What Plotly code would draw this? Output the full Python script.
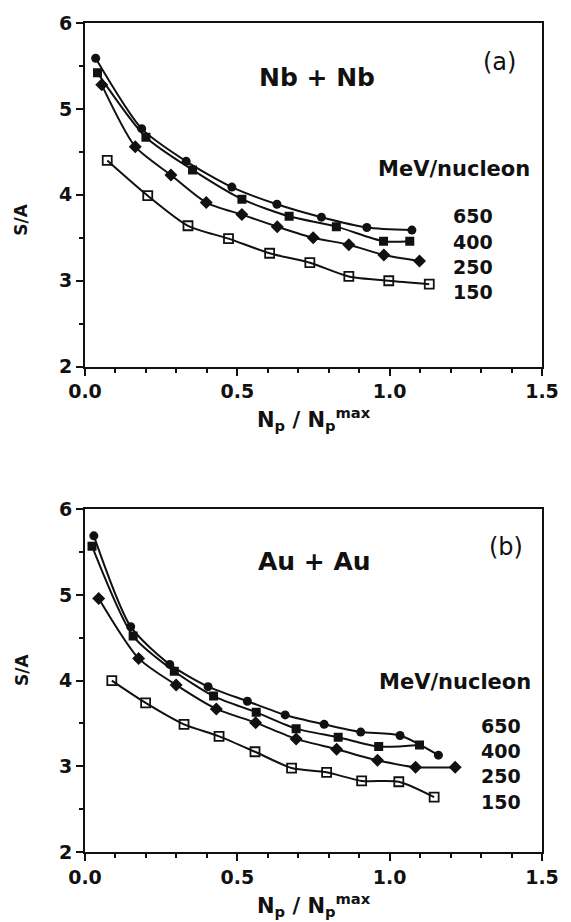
import plotly.graph_objects as go

# ---------------- data ----------------
ENERGIES = ["650", "400", "250", "150"]

A_X_650 = [0.035, 0.186, 0.332, 0.482, 0.630, 0.776, 0.925, 1.073]
A_Y_650 = [5.59, 4.77, 4.39, 4.09, 3.89, 3.74, 3.62, 3.59]
A_X_400 = [0.041, 0.200, 0.353, 0.515, 0.670, 0.825, 0.980, 1.066]
A_Y_400 = [5.42, 4.67, 4.29, 3.95, 3.75, 3.63, 3.46, 3.46]
A_X_250 = [0.055, 0.165, 0.282, 0.398, 0.515, 0.631, 0.749, 0.866, 0.981, 1.098]
A_Y_250 = [5.28, 4.56, 4.23, 3.91, 3.77, 3.63, 3.50, 3.42, 3.30, 3.23]
A_X_150 = [0.073, 0.206, 0.338, 0.471, 0.606, 0.738, 0.866, 0.997, 1.130]
A_Y_150 = [4.40, 3.99, 3.64, 3.49, 3.32, 3.21, 3.05, 3.00, 2.96]

B_X_650 = [0.029, 0.150, 0.278, 0.404, 0.533, 0.657, 0.785, 0.905, 1.034, 1.160]
B_Y_650 = [5.69, 4.63, 4.19, 3.93, 3.76, 3.60, 3.49, 3.40, 3.36, 3.13]
B_X_400 = [0.023, 0.158, 0.293, 0.422, 0.562, 0.693, 0.831, 0.964, 1.098]
B_Y_400 = [5.57, 4.52, 4.11, 3.82, 3.63, 3.44, 3.34, 3.23, 3.25]
B_X_250 = [0.045, 0.176, 0.299, 0.431, 0.560, 0.693, 0.826, 0.960, 1.085, 1.215]
B_Y_250 = [4.96, 4.26, 3.95, 3.67, 3.51, 3.32, 3.20, 3.07, 2.99, 2.99]
B_X_150 = [0.088, 0.199, 0.325, 0.440, 0.558, 0.678, 0.793, 0.908, 1.030, 1.146]
B_Y_150 = [4.00, 3.74, 3.49, 3.35, 3.17, 2.98, 2.93, 2.83, 2.82, 2.64]

X_TICKS = [0.0, 0.5, 1.0, 1.5]
X_TICK_LABELS = ["<b>0.0</b>", "<b>0.5</b>", "<b>1.0</b>", "<b>1.5</b>"]
Y_TICKS = [2, 3, 4, 5, 6]
Y_TICK_LABELS = ["<b>2</b>", "<b>3</b>", "<b>4</b>", "<b>5</b>", "<b>6</b>"]

# ---------------- styling ----------------
FONT = "DejaVu Sans"
BLACK = "#111111"
MARKERS = {
    "650": dict(symbol="circle", size=9, color=BLACK),
    "400": dict(symbol="square", size=9, color=BLACK),
    "250": dict(symbol="diamond", size=10, color=BLACK),
    "150": dict(symbol="square-open", size=9, color=BLACK, line=dict(width=1.8, color=BLACK)),
}

panels = [
    dict(xa="x", ya="y",
         series={"650": (A_X_650, A_Y_650), "400": (A_X_400, A_Y_400),
                 "250": (A_X_250, A_Y_250), "150": (A_X_150, A_Y_150)}),
    dict(xa="x2", ya="y2",
         series={"650": (B_X_650, B_Y_650), "400": (B_X_400, B_Y_400),
                 "250": (B_X_250, B_Y_250), "150": (B_X_150, B_Y_150)}),
]

fig = go.Figure()
for p in panels:
    for e in ENERGIES:
        xs, ys = p["series"][e]
        fig.add_trace(go.Scatter(
            x=xs, y=ys, xaxis=p["xa"], yaxis=p["ya"], mode="lines+markers",
            line=dict(color=BLACK, width=2, shape="spline", smoothing=0.7),
            marker=MARKERS[e], showlegend=False, name=e + " MeV/nucleon"))

W, H = 571, 922
ML, MR, MT, MB = 85, 19, 15, 70
ph = H - MT - MB
pw = W - ML - MR
def py(Y):  # pixel y -> paper y
    return (H - MB - Y) / ph
def px(X):  # pixel x -> paper x
    return (X - ML) / pw

top_dom = [py(362), 1.0]
bot_dom = [0.0, py(506)]

xcommon = dict(range=[0, 1.5], tickvals=X_TICKS, ticktext=X_TICK_LABELS,
               ticks="outside", ticklen=7, tickwidth=2, tickcolor=BLACK,
               showline=True, linecolor=BLACK, linewidth=2, mirror=True,
               showgrid=False, zeroline=False,
               tickfont=dict(family=FONT, size=19, color=BLACK),
               minor=dict(dtick=0.1, ticks="outside", ticklen=4, tickwidth=1.5, tickcolor=BLACK, showgrid=False))
ycommon = dict(range=[2, 6], tickvals=Y_TICKS, ticktext=Y_TICK_LABELS,
               ticks="outside", ticklen=7, tickwidth=2, tickcolor=BLACK,
               showline=True, linecolor=BLACK, linewidth=2, mirror=True,
               showgrid=False, zeroline=False,
               tickfont=dict(family=FONT, size=19, color=BLACK),
               minor=dict(dtick=0.5, ticks="outside", ticklen=4, tickwidth=1.5, tickcolor=BLACK, showgrid=False))

fig.update_layout(
    width=W, height=H, margin=dict(l=ML, r=MR, t=MT, b=MB),
    paper_bgcolor="white", plot_bgcolor="white",
    xaxis=dict(domain=[0, 1], anchor="y", **xcommon),
    yaxis=dict(domain=top_dom, anchor="x", **ycommon),
    xaxis2=dict(domain=[0, 1], anchor="y2", **xcommon),
    yaxis2=dict(domain=bot_dom, anchor="x2", **ycommon),
)

ann = []
def txt(text, x, y, xref, yref, size, bold=True, **kw):
    ann.append(dict(text=("<b>%s</b>" % text) if bold else text, x=x, y=y,
                    xref=xref, yref=yref, showarrow=False,
                    font=dict(family=FONT, size=size, color=BLACK), **kw))

# panel labels
txt("Nb + Nb", 0.762, 5.36, "x", "y", 25)
txt("(a)", 1.36, 5.55, "x", "y", 24, bold=False)
txt("Au + Au", 0.752, 5.39, "x2", "y2", 25)
txt("(b)", 1.382, 5.56, "x2", "y2", 24, bold=False)

# legend-like labels
txt("MeV/nucleon", 1.212, 4.30, "x", "y", 21)
for e, yv in zip(ENERGIES, [3.75, 3.455, 3.16, 2.865]):
    txt(e, 1.275, yv, "x", "y", 19)
txt("MeV/nucleon", 1.216, 3.98, "x2", "y2", 21)
for e, yv in zip(ENERGIES, [3.47, 3.18, 2.89, 2.58]):
    txt(e, 1.366, yv, "x2", "y2", 19)

# axis titles
XT = "N<sub>p</sub> / N<sub>p</sub><sup>max</sup>"
txt(XT, 0.75, py(415), "x", "paper", 21, yanchor="middle")
txt(XT, 0.75, py(906), "x2", "paper", 21, yanchor="middle")
txt("S/A", px(20), py(195), "paper", "paper", 17, textangle=-90, xanchor="center")
txt("S/A", px(20), py(686), "paper", "paper", 17, textangle=-90, xanchor="center")

fig.update_layout(annotations=ann)
fig.write_html("out.html")
